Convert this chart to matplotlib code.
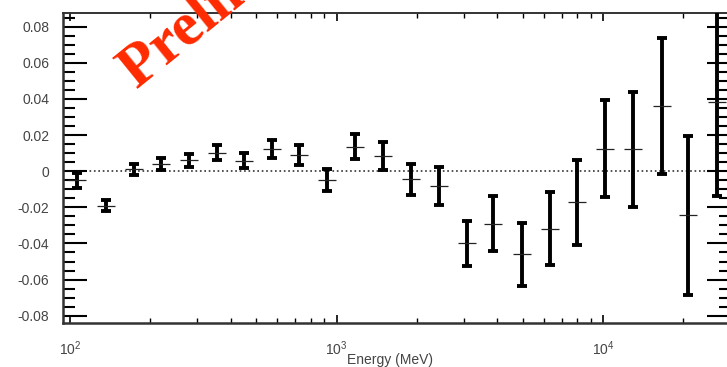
import matplotlib
matplotlib.use("Agg")
import matplotlib.pyplot as plt
from matplotlib.ticker import LogLocator, MultipleLocator, FuncFormatter

# Dados (energia em MeV, residuo e erro)
energia = [106, 136, 173, 219, 279, 355, 451, 571, 723, 922, 1175, 1490,
           1910, 2425, 3080, 3880, 4980, 6330, 8010, 10150, 13000, 16600,
           20900, 26700]
residuo = [-0.005, -0.019, 0.001, 0.004, 0.006, 0.0102, 0.0058, 0.0122,
           0.0089, -0.005, 0.0135, 0.0084, -0.0044, -0.0083, -0.040, -0.029,
           -0.046, -0.0318, -0.0173, 0.0125, 0.012, 0.036, -0.0244, 0.038]
erro = [0.0042, 0.0031, 0.0032, 0.0035, 0.0037, 0.0042, 0.0043, 0.0051,
        0.0053, 0.006, 0.0069, 0.0078, 0.0086, 0.0104, 0.0125, 0.0152,
        0.0175, 0.0202, 0.0233, 0.027, 0.0316, 0.0378, 0.0441, 0.052]

yticks = [-0.08, -0.06, -0.04, -0.02, 0, 0.02, 0.04, 0.06, 0.08]

plt.rcParams['font.family'] = ['Liberation Sans', 'DejaVu Sans']

fig = plt.figure(figsize=(7.27, 3.67), dpi=100)
# o eixo direito fica um pouco fora da imagem, como no original
ax = fig.add_axes([0.0867, 0.1199, 0.9188, 0.8447])

ax.errorbar(energia, residuo, yerr=erro, fmt='none', ecolor='black',
            elinewidth=2.8, capsize=3.8, capthick=2.8, zorder=3)
ax.plot(energia, residuo, linestyle='none', marker='_', markersize=13,
        markeredgewidth=0.9, color='#222222', zorder=4)

ax.axhline(0, color='#333333', linestyle=':', linewidth=1.2, zorder=1)

ax.set_xscale('log')
ax.set_xlim(94.1, 30220)
ax.set_ylim(-0.084, 0.0875)

ax.set_yticks(yticks)
ax.yaxis.set_minor_locator(MultipleLocator(0.005))
ax.yaxis.set_major_formatter(FuncFormatter(lambda v, p: '0' if abs(v) < 1e-9 else '%.2f' % v))
ax.xaxis.set_major_locator(LogLocator(base=10, numticks=10))
ax.xaxis.set_minor_locator(LogLocator(base=10, subs=range(2, 10), numticks=20))

ax.tick_params(axis='y', which='major', direction='in', length=17, width=1.5,
               left=True, right=True, labelsize=10, labelcolor='#444444', pad=10)
ax.tick_params(axis='y', which='minor', direction='in', length=8.5, width=1.5,
               left=True, right=True)
ax.tick_params(axis='x', which='major', direction='in', length=5.5, width=1.2,
               top=True, bottom=True, labelsize=10, labelcolor='#444444', pad=12)
ax.tick_params(axis='x', which='minor', direction='in', length=3.5, width=1.0,
               top=True, bottom=True)

for lado in ['left', 'bottom']:
    ax.spines[lado].set_linewidth(1.8)
for lado in ['top', 'right']:
    ax.spines[lado].set_linewidth(1.4)
for lado in ax.spines:
    ax.spines[lado].set_color('#333333')

ax.set_xlabel('Energy (MeV)', fontsize=10, color='#444444')
ax.xaxis.set_label_coords(0.4895, -0.098)

# Marca d'agua "Preliminary" em vermelho, cortada pelo topo da figura
fig.text(137 / 727, 1 - 89 / 367, 'Preliminary', color='#ff2a00',
         fontsize=44, fontweight='bold', family='Liberation Serif',
         rotation=39, rotation_mode='anchor', ha='left', va='baseline')

fig.savefig('out.png', dpi=100)
